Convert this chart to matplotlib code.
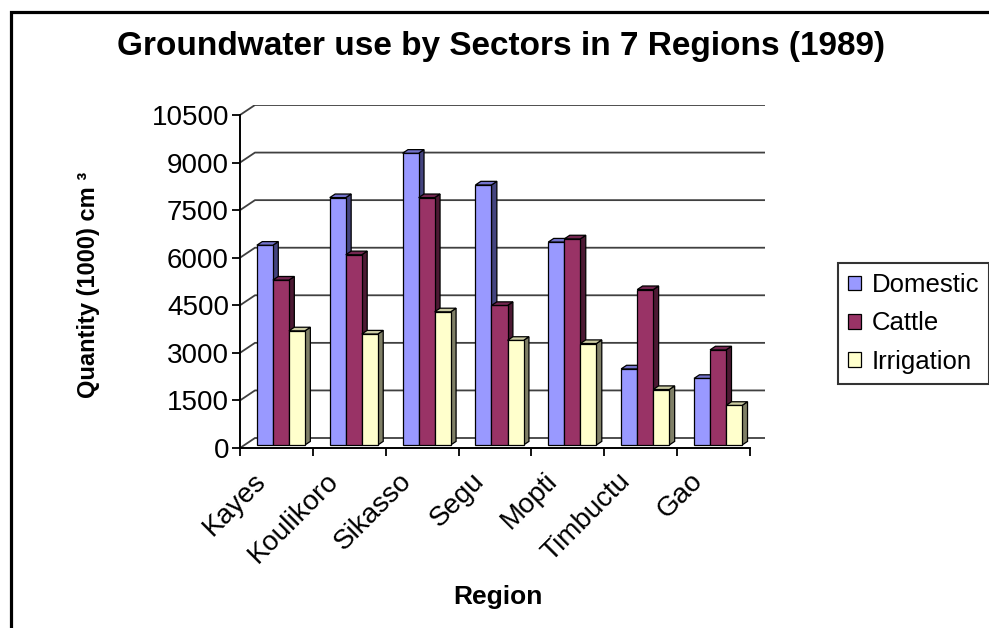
import matplotlib
matplotlib.use("Agg")
import matplotlib.pyplot as plt
from matplotlib.patches import Polygon, Rectangle, Patch
import numpy as np

plt.rcParams['font.family'] = ['Liberation Sans', 'DejaVu Sans']

# Data
regions = ['Kayes', 'Koulikoro', 'Sikasso', 'Segu', 'Mopti', 'Timbuctu', 'Gao']
domestic = [6300, 7800, 9200, 8200, 6400, 2400, 2100]
cattle = [5200, 6000, 7800, 4400, 6500, 4900, 3000]
irrigation = [3600, 3500, 4200, 3300, 3200, 1750, 1250]
series_names = ['Domestic', 'Cattle', 'Irrigation']
yticks = [0, 1500, 3000, 4500, 6000, 7500, 9000, 10500]

# front / side / top colours (Excel 3D column look)
front = ['#9999FF', '#993366', '#FFFFCC']
side = ['#44447F', '#4C1933', '#7F7F66']
top = ['#7373CC', '#732650', '#CCCCA3']

W, H = 989, 628
fig = plt.figure(figsize=(W / 100, H / 100), dpi=100)

# 3D depth offset (data units) of the back wall
DX = 15 / 73
DY = 10 * 10500 / 333
d0, d1 = 0.3, 0.66  # bar front / back depth

ax = fig.add_axes([240 / W, 1 - 448 / H, 525 / W, 343 / H])
ax.set_xlim(0, len(regions) + DX)
ax.set_ylim(0, 10500 + DY)

# gridlines on back wall + left wall diagonals
for v in yticks:
    ax.plot([0, DX, len(regions) + DX], [v, v + DY, v + DY],
            color='#404040', lw=1.3, zorder=1, solid_capstyle='butt')

# bars
w = 0.22
data = [domestic, cattle, irrigation]
n = len(regions)
z = 2
for i in range(n):
    for k in range(3):
        v = data[k][i]
        x0 = i + 0.5 - 1.5 * w + k * w
        x1 = x0 + w
        ox0, oy0 = d0 * DX, d0 * DY
        ox1, oy1 = d1 * DX, d1 * DY
        face = Polygon([(x0 + ox0, oy0), (x1 + ox0, oy0), (x1 + ox0, v + oy0), (x0 + ox0, v + oy0)],
                       closed=True, facecolor=front[k], edgecolor='black', lw=0.9, zorder=z)
        sidef = Polygon([(x1 + ox0, oy0), (x1 + ox1, oy1), (x1 + ox1, v + oy1), (x1 + ox0, v + oy0)],
                        closed=True, facecolor=side[k], edgecolor='black', lw=0.9, zorder=z)
        topf = Polygon([(x0 + ox0, v + oy0), (x1 + ox0, v + oy0), (x1 + ox1, v + oy1), (x0 + ox1, v + oy1)],
                       closed=True, facecolor=top[k], edgecolor='black', lw=0.9, zorder=z)
        ax.add_patch(sidef)
        ax.add_patch(face)
        ax.add_patch(topf)
        z += 1

for s in ['top', 'right']:
    ax.spines[s].set_visible(False)
ax.spines['left'].set_bounds(0, 10500)
ax.spines['bottom'].set_bounds(0, n)
ax.spines['left'].set_linewidth(1.4)
ax.spines['bottom'].set_linewidth(1.4)
ax.spines['left'].set_zorder(50)
ax.spines['bottom'].set_zorder(50)

ax.set_yticks(yticks)
ax.set_yticklabels([str(t) for t in yticks], fontsize=20)
ax.set_xticks(np.arange(n + 1))
ax.set_xticklabels([])
ax.tick_params(axis='both', direction='out', length=6, width=1.3, color='black')
ax.tick_params(axis='y', pad=2)

for i, name in enumerate(regions):
    ax.annotate(name, xy=(i + 0.3, 0), xytext=(0, -21), textcoords='offset points',
                rotation=45, rotation_mode='anchor', ha='right', va='center',
                fontsize=20, annotation_clip=False)

fig.text(501 / W, 1 - 46 / H, 'Groundwater use by Sectors in 7 Regions (1989)',
         ha='center', va='center', fontsize=24, fontweight='bold')
fig.text(88 / W, 1 - 285 / H, 'Quantity (1000) cm ³', rotation=90,
         ha='center', va='center', fontsize=17, fontweight='bold')
fig.text(498 / W, 1 - 597 / H, 'Region', ha='center', va='center',
         fontsize=19, fontweight='bold')

handles = [Patch(facecolor=front[k], edgecolor='black', lw=0.9) for k in range(3)]
leg = fig.legend(handles, series_names, loc='upper left',
                 bbox_to_anchor=(838 / W, 1 - 263 / H), bbox_transform=fig.transFigure,
                 fontsize=18.5, handlelength=0.5, handleheight=0.5, handletextpad=0.4,
                 labelspacing=0.55, borderpad=0.4, borderaxespad=0,
                 fancybox=False, frameon=True)
leg.get_frame().set_edgecolor('black')
leg.get_frame().set_linewidth(1.5)

# outer chart border (cropped at right/bottom)
fig.add_artist(Rectangle((10.5 / W, -0.5), 2, 1.5 - 11.5 / H, transform=fig.transFigure,
                         fill=False, edgecolor='black', lw=2.3))

fig.savefig('out.png', dpi=100)
